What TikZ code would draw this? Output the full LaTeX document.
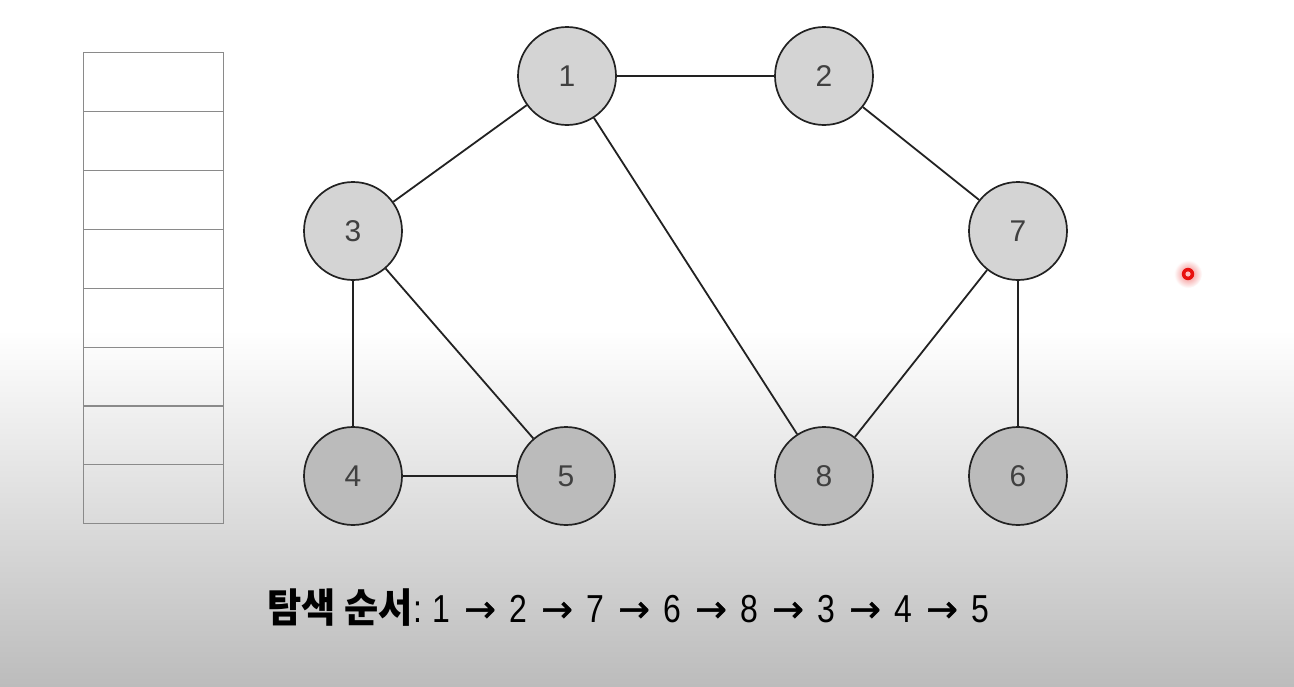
\documentclass[tikz,border=0pt]{standalone}
\usepackage{fontspec}
\setmainfont{Liberation Sans}
\newfontfamily\krfont[FakeStretch=0.93]{Noto Sans CJK KR}
\newfontfamily\seqfont[FakeStretch=0.82]{Liberation Sans}
\newfontfamily\arrowfont[FakeBold=1.2]{DejaVu Sans}
\definecolor{bgbottom}{HTML}{BCBCBC}
\definecolor{nodetop}{HTML}{D4D4D4}
\definecolor{nodelow}{HTML}{BBBBBB}
\definecolor{edgecol}{HTML}{222222}
\definecolor{cellcol}{HTML}{8A8A8A}
\definecolor{dotred}{HTML}{E8100E}
\newcommand\seqdigit[1]{\makebox[17.8pt][c]{#1}}
\newcommand\seqarrow{\makebox[59.2pt][c]{\arrowfont\fontsize{38}{38}\selectfont →}}
\tikzset{
  vertex/.style={circle, draw=edgecol, line width=1.7pt, minimum size=98pt,
    inner sep=0pt, font=\fontsize{30}{30}\selectfont, text=black!75},
  upper/.style={vertex, fill=nodetop},
  lower/.style={vertex, fill=nodelow},
  edge/.style={draw=edgecol, line width=1.8pt},
  cell/.style={draw=cellcol, line width=1.1pt, minimum width=140pt,
    minimum height=58.9pt, inner sep=0pt, anchor=north west}
}
\begin{document}
\begin{tikzpicture}[x=1pt,y=-1pt]
  % canvas and backdrop
  \useasboundingbox (0,0) rectangle (1294,686);
  \fill[white] (0,0) rectangle (1294,331);
  \shade[top color=white, bottom color=bgbottom] (0,330) rectangle (1294,686);

  % stack cells
  \foreach \i in {0,...,7} {
    \node[cell] (cell\i) at (83,{52+\i*58.9}) {};
  }

  % graph vertices
  \node[upper] (n1) at (567,76)  {1};
  \node[upper] (n2) at (824,76)  {2};
  \node[upper] (n3) at (353,231) {3};
  \node[upper] (n7) at (1018,231) {7};
  \node[lower] (n4) at (353,476) {4};
  \node[lower] (n5) at (566,476) {5};
  \node[lower] (n8) at (824,476) {8};
  \node[lower] (n6) at (1018,476) {6};

  % graph edges
  \draw[edge] (n1) -- (n2);
  \draw[edge] (n1) -- (n3);
  \draw[edge] (n1) -- (n8);
  \draw[edge] (n2) -- (n7);
  \draw[edge] (n3) -- (n4);
  \draw[edge] (n3) -- (n5);
  \draw[edge] (n4) -- (n5);
  \draw[edge] (n7) -- (n8);
  \draw[edge] (n7) -- (n6);

  % pointer dot
  \shade[inner color=dotred!55, outer color=white] (1188,274) circle (14);
  \fill[dotred] (1188,274) circle (6.2);
  \fill[red!25] (1188,274) circle (2.6);

  % visiting order
  \node[anchor=base west, inner sep=0pt] (orderlabel) at (267,622)
    {{\krfont\bfseries\fontsize{40}{40}\selectfont 탐색 순서}\hspace{1pt}{\seqfont\fontsize{39}{39}\selectfont :}};
  \node[anchor=base west, inner sep=0pt] (order) at (432.5,622)
    {\seqfont\fontsize{39}{39}\selectfont
     \seqdigit{1}\seqarrow\seqdigit{2}\seqarrow\seqdigit{7}\seqarrow\seqdigit{6}\seqarrow
     \seqdigit{8}\seqarrow\seqdigit{3}\seqarrow\seqdigit{4}\seqarrow\seqdigit{5}};
\end{tikzpicture}
\end{document}
